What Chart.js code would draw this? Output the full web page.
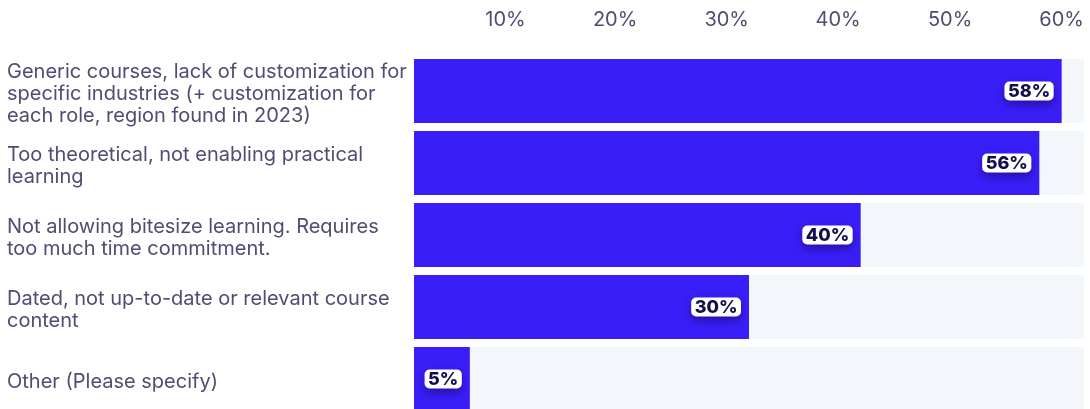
<!DOCTYPE html>
<html>
<head>
<meta charset="utf-8">
<script src="https://cdn.jsdelivr.net/npm/chart.js@4/dist/chart.umd.min.js"></script>
<style>
  html, body { margin: 0; padding: 0; background: #fff; overflow: hidden; }
  #wrap { width: 1090px; height: 416px; }
</style>
</head>
<body>
<div id="wrap"><canvas id="chart" width="1090" height="416"></canvas></div>
<script>
// survey answers, one multi-line label per row
const categories = [
  ['Generic courses, lack of customization for', 'specific industries (+ customization for', 'each role, region found in 2023)'],
  ['Too theoretical, not enabling practical', 'learning'],
  ['Not allowing bitesize learning. Requires', 'too much time commitment.'],
  ['Dated, not up-to-date or relevant course', 'content'],
  ['Other (Please specify)']
];
const shares = [58, 56, 40, 30, 5];
const axisTicks = [0, 10, 20, 30, 40, 50, 60];

const BAR = '#3a1ef8';
const TRACK = '#f3f6fa';
const TEXT = '#4f4d72';
const FONT = 'Inter, "Noto Sans", sans-serif';

// light full-width band behind each bar
const trackPlugin = {
  id: 'track',
  beforeDatasetsDraw(chart) {
    const { ctx, chartArea } = chart;
    const meta = chart.getDatasetMeta(0);
    ctx.save();
    ctx.fillStyle = TRACK;
    meta.data.forEach(bar => {
      const h = bar.height;
      ctx.fillRect(chartArea.left, bar.y - h / 2, chartArea.right - chartArea.left, h);
    });
    ctx.restore();
  }
};

// white pill with the value, tucked inside the bar end
const valuePlugin = {
  id: 'valuePill',
  afterDatasetsDraw(chart) {
    const { ctx } = chart;
    const meta = chart.getDatasetMeta(0);
    ctx.save();
    ctx.font = '800 18px ' + FONT;
    ctx.textBaseline = 'middle';
    ctx.textAlign = 'center';
    meta.data.forEach((bar, i) => {
      const text = shares[i] + '%';
      const w = ctx.measureText(text).width + 7;
      const h = 19;
      let right = bar.x - 8;
      let left = right - w;
      if (left < bar.base + 2) { left = bar.base + 2; right = left + w; }
      const top = bar.y - h / 2;
      ctx.save();
      ctx.shadowColor = 'rgba(10, 5, 60, 0.45)';
      ctx.shadowBlur = 8;
      ctx.shadowOffsetY = 4;
      ctx.fillStyle = '#ffffff';
      ctx.beginPath();
      ctx.roundRect(left, top, w, h, 5);
      ctx.fill();
      ctx.restore();
      ctx.fillStyle = '#12104a';
      ctx.fillText(text, left + w / 2, bar.y + 1);
    });
    ctx.restore();
  }
};

new Chart(document.getElementById('chart'), {
  type: 'bar',
  data: {
    labels: categories,
    datasets: [{
      data: shares,
      backgroundColor: BAR,
      borderWidth: 0,
      barPercentage: 64 / 72,
      categoryPercentage: 1
    }]
  },
  options: {
    indexAxis: 'y',
    responsive: false,
    animation: false,
    events: [],
    layout: { padding: { left: 7, right: 6, top: 0, bottom: 1 } },
    plugins: {
      legend: { display: false },
      tooltip: { enabled: false }
    },
    scales: {
      x: {
        position: 'top',
        min: 0,
        max: 60,
        afterBuildTicks(scale) {
          scale.ticks = axisTicks.map(v => ({ value: v }));
        },
        afterFit(scale) {
          scale.height = 55;
          scale.paddingLeft = 0;
          scale.paddingRight = 0;
        },
        grid: { display: false, drawTicks: false },
        border: { display: false },
        ticks: {
          align: 'end',
          padding: 23,
          color: TEXT,
          font: { family: FONT, size: 20 },
          callback: v => (v === 0 ? '' : v + '%')
        }
      },
      y: {
        afterFit(scale) {
          scale.width = 407;
          scale.paddingTop = 0;
          scale.paddingBottom = 0;
        },
        grid: { display: false, drawTicks: false },
        border: { display: false },
        ticks: {
          autoSkip: false,
          crossAlign: 'far',
          labelOffset: 3,
          color: TEXT,
          font: { family: FONT, size: 20, lineHeight: 1.1 }
        }
      }
    }
  },
  plugins: [trackPlugin, valuePlugin]
});
</script>
</body>
</html>
